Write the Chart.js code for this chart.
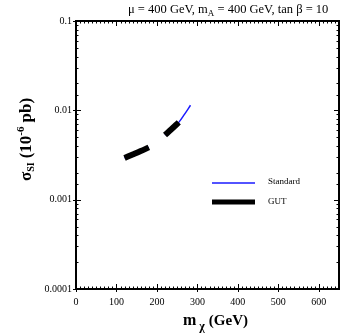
<!DOCTYPE html>
<html>
<head>
<meta charset="utf-8">
<script src="https://cdn.jsdelivr.net/npm/chart.js@4.4.0/dist/chart.umd.min.js"></script>
<style>
  html, body { margin: 0; padding: 0; background: #fff; }
  #wrap { width: 346px; height: 334px; position: relative; }
</style>
</head>
<body>
<div id="wrap"><canvas id="grafico"></canvas></div>
<script>
// valores (m_chi em GeV, sigma em 10^-6 pb)
const massaStd = [120, 140, 160, 180, 200, 220, 235, 254, 268, 283];
const sigmaStd = [0.00293, 0.00320, 0.00350, 0.00385, null, 0.00530, 0.00610, 0.00733, 0.00900, 0.0114];
const massaGut = [120, 140, 160, 180, 200, 220, 235, 254];
const sigmaGut = [0.00293, 0.00320, 0.00350, 0.00385, null, 0.00530, 0.00610, 0.00733];
const ticksX = [0, 100, 200, 300, 400, 500, 600];
const ticksY = [0.0001, 0.001, 0.01, 0.1];

const serif = "'Liberation Serif', 'DejaVu Serif', serif";

function pontos(xs, ys) {
    return xs.map((x, i) => ({ x: x, y: ys[i] }));
}

function igual(a, b) { return Math.abs(a - b) < 1e-9 * Math.max(1, Math.abs(b)); }

// escreve pedaços de texto seguidos: [texto, tamanho, deslocamento vertical, espaço]
function escrever(ctx, x, y, pedacos, negrito) {
    pedacos.forEach(p => {
        ctx.font = (negrito ? "bold " : "") + p[1] + "px " + serif;
        ctx.fillText(p[0], x, y + p[2]);
        x += ctx.measureText(p[0]).width + (p[3] || 0);
    });
}

// moldura, ticks para dentro, textos com índices e legenda
const moldura = {
    id: "moldura",
    afterDraw(chart) {
        const ctx = chart.ctx;
        const a = chart.chartArea;
        const sx = chart.scales.x, sy = chart.scales.y;
        ctx.save();
        ctx.strokeStyle = "#000";

        // ticks x
        ctx.lineWidth = 1;
        sx.ticks.forEach(t => {
            const px = Math.round(sx.getPixelForValue(t.value)) + 0.5;
            const maior = ticksX.includes(t.value);
            const len = maior ? 5 : 2.5;
            ctx.beginPath();
            ctx.moveTo(px, a.bottom + (maior ? 3 : 0)); ctx.lineTo(px, a.bottom - len);
            ctx.moveTo(px, a.top); ctx.lineTo(px, a.top + len);
            ctx.stroke();
        });
        // ticks y
        sy.ticks.forEach(t => {
            const py = Math.round(sy.getPixelForValue(t.value)) + 0.5;
            const maior = ticksY.some(v => igual(v, t.value));
            const len = maior ? 5 : 2.5;
            ctx.beginPath();
            ctx.moveTo(a.left - (maior ? 3 : 0), py); ctx.lineTo(a.left + len, py);
            ctx.moveTo(a.right, py); ctx.lineTo(a.right - len, py);
            ctx.stroke();
        });

        // moldura
        ctx.lineWidth = 2;
        ctx.strokeRect(a.left, a.top, a.right - a.left, a.bottom - a.top);

        ctx.fillStyle = "#000";
        ctx.textBaseline = "alphabetic";

        // titulo
        escrever(ctx, 128, 13, [
            ["μ = 400 GeV, m", 12.5, 0], ["A", 9, 3], [" = 400 GeV, tan β = 10", 12.5, 0]
        ], false);

        // titulo eixo x
        escrever(ctx, 183, 325, [
            ["m", 16, 0, 3], ["χ", 12, 5, 4], ["(GeV)", 15, 0]
        ], true);

        // titulo eixo y
        ctx.translate(31, 181);
        ctx.rotate(-Math.PI / 2);
        escrever(ctx, 0, 0, [
            ["σ", 17, 0], ["SI", 10, 3, 4], ["(10", 17, 0], ["-6", 11, -7, 4], ["pb)", 17, 0]
        ], true);
        ctx.setTransform(1, 0, 0, 1, 0, 0);

        // legenda
        ctx.lineCap = "butt";
        ctx.strokeStyle = "#1a1aff";
        ctx.lineWidth = 1.5;
        ctx.beginPath(); ctx.moveTo(212, 183); ctx.lineTo(255, 183); ctx.stroke();
        ctx.strokeStyle = "#000";
        ctx.lineWidth = 5;
        ctx.beginPath(); ctx.moveTo(212, 202); ctx.lineTo(255, 202); ctx.stroke();
        ctx.font = "9px " + serif;
        ctx.textBaseline = "middle";
        ctx.fillText("Standard", 268, 182);
        ctx.fillText("GUT", 268, 202);

        ctx.restore();
    }
};

new Chart(document.getElementById("grafico"), {
    type: "line",
    data: {
        datasets: [
            {
                label: "GUT",
                data: pontos(massaGut, sigmaGut),
                borderColor: "#000",
                borderWidth: 6,
                borderCapStyle: "butt",
                pointRadius: 0,
                cubicInterpolationMode: "monotone",
                spanGaps: false
            },
            {
                label: "Standard",
                data: pontos(massaStd, sigmaStd),
                borderColor: "#1a1aff",
                borderWidth: 1.5,
                pointRadius: 0,
                cubicInterpolationMode: "monotone",
                spanGaps: false
            }
        ]
    },
    options: {
        responsive: true,
        maintainAspectRatio: false,
        animation: false,
        layout: { padding: { top: 21, right: 3, left: 0, bottom: 0 } },
        plugins: {
            legend: { display: false },
            tooltip: { enabled: false }
        },
        scales: {
            x: {
                type: "linear",
                min: 0,
                max: 650,
                grid: { display: false, drawTicks: false },
                border: { display: false },
                afterFit(scale) { scale.height = 45; },
                ticks: {
                    stepSize: 10,
                    autoSkip: false,
                    maxRotation: 0,
                    padding: 7,
                    color: "#000",
                    font: { family: serif, size: 10 },
                    callback: v => ticksX.includes(v) ? String(v) : ""
                }
            },
            y: {
                type: "logarithmic",
                min: 0.0001,
                max: 0.1,
                grid: { display: false, drawTicks: false },
                border: { display: false },
                afterFit(scale) { scale.width = 76; },
                ticks: {
                    autoSkip: false,
                    padding: 4,
                    color: "#000",
                    font: { family: serif, size: 10 },
                    callback: v => {
                        const t = ticksY.find(u => igual(u, v));
                        return t === undefined ? "" : String(t);
                    }
                }
            }
        }
    },
    plugins: [moldura]
});
</script>
</body>
</html>
